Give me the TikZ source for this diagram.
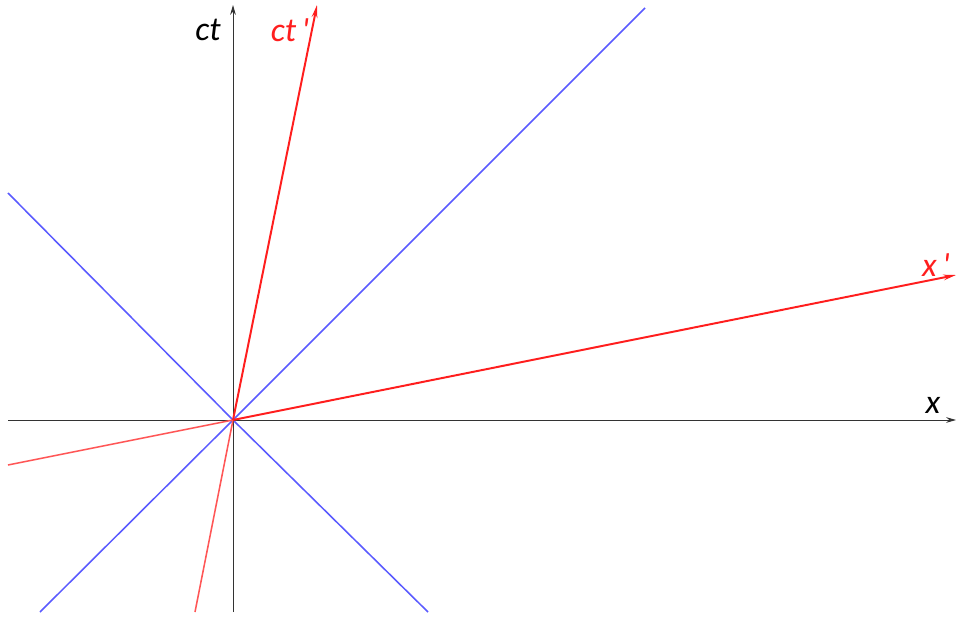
\documentclass[tikz,border=0pt]{standalone}
\usepackage{fontspec}
\setmainfont{Carlito}
\usetikzlibrary{arrows.meta}

\definecolor{lightblue}{RGB}{90,90,255}
\definecolor{lightred}{RGB}{255,30,30}

\tikzset{
  axis/.style={draw=black!80, line width=0.6pt, -{Stealth[length=7pt,width=4pt]}},
  primed/.style={draw=lightred, line width=1.4pt},
  lightray/.style={draw=lightblue, line width=1.1pt},
  axlabel/.style={font={\fontsize{24}{24}\selectfont\itshape}}
}

\begin{document}
\begin{tikzpicture}[x=0.025cm, y=-0.025cm]

\useasboundingbox (0,0) rectangle (956,617);

\coordinate (O) at (233,420);

% end points of the axes
\coordinate (xl) at (8,420);
\coordinate (xr) at (956,420);
\coordinate (tb) at (233,612);
\coordinate (tt) at (233,5);

% primed axes, slope 0.2
\coordinate (xpl) at (8,465);
\coordinate (xpr) at (956,275);
\coordinate (tpb) at (195,612);
\coordinate (tpt) at (317,5);

% light cone
\coordinate (c1) at (645,8);
\coordinate (c2) at (40,612);
\coordinate (c3) at (8,193);
\coordinate (c4) at (428,612);

\draw [lightray] (c2) -- (O) -- (c1);
\draw [lightray] (c3) -- (O) -- (c4);

\draw [axis] (xl) -- (xr);
\draw [axis] (tb) -- (tt);

\draw [primed, draw=lightred!75, line width=1.1pt] (xpl) -- (O);
\draw [primed, draw=lightred!75, line width=1.1pt] (tpb) -- (O);
\draw [primed, -{Stealth[length=9pt,width=4pt]}] (O) -- (xpr);
\draw [primed, -{Stealth[length=9pt,width=4pt]}] (O) -- (tpt);

\node [axlabel] (ct) at (208,30) {ct};
\node [axlabel, text=lightred] (ctp) at (290,30) {ct\,\textquotesingle};
\node [axlabel, text=lightred] (xp) at (936,265) {x\,\textquotesingle};
\node [axlabel] (xx) at (933,405) {x};

\end{tikzpicture}
\end{document}
